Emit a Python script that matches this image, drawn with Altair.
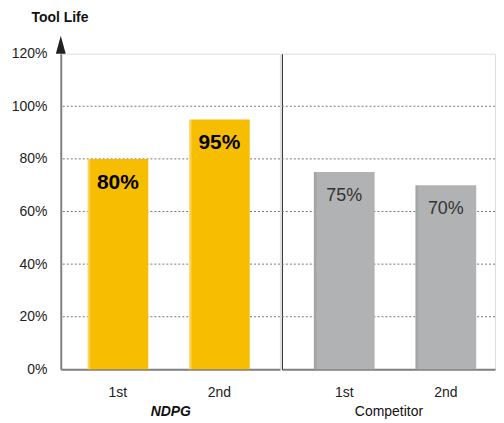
import altair as alt
import pandas as pd

groups = ["NDPG", "Competitor"]
trials = ["1st", "2nd"]
ndpg_values = [80, 95]
competitor_values = [75, 70]
y_ticks = [0, 20, 40, 60, 80, 100, 120]
grid_values = [20, 40, 60, 80, 100]
y_title = "Tool Life"

YELLOW = "#F7BD00"
YELLOW_EDGE = "#FBE08A"
GRAY = "#B1B2B4"
GRAY_EDGE = "#9C9D9F"
FONT = "Liberation Sans"

def make_df(vals):
    return pd.DataFrame({"trial": trials, "value": vals,
                         "label": [f"{v}%" for v in vals]})

grid_df = pd.DataFrame({"g": grid_values})
y_scale = alt.Scale(domain=[0, 120], nice=False, zero=True)


def panel(vals, color, edge, group, left, label_bold, label_color, label_size,
          pad_outer, align, width):
    df = make_df(vals)
    x_scale = alt.Scale(paddingInner=0.402, paddingOuter=pad_outer, align=align)
    x_axis = alt.Axis(
        title=group, labelAngle=0, ticks=False, tickSize=0, labelPadding=16,
        labelFontSize=14, labelColor="#222", labelFont=FONT,
        titleFont=FONT, titleFontSize=14, titleColor="#111",
        titleFontWeight="bold" if group == "NDPG" else "normal",
        titleFontStyle="italic" if group == "NDPG" else "normal",
        titlePadding=5, domainColor="#808080", domainWidth=2,
    )
    if left:
        y_axis = alt.Axis(
            values=y_ticks, labelExpr="datum.value + '%'", grid=False,
            ticks=False, tickSize=0, labelPadding=14, labelFontSize=14,
            labelColor="#222", labelFont=FONT, domainColor="#808080",
            domainWidth=2, title=y_title, titleAngle=0, titleAlign="left",
            titleBaseline="middle", titleX=-30, titleY=-36,
            titleFontSize=14, titleFontWeight="bold", titleColor="#111",
            titleFont=FONT,
        )
    else:
        y_axis = alt.Axis(
            labels=False, ticks=False, tickSize=0, grid=False, title=None,
            domainColor="#222", domainWidth=1, values=y_ticks,
        )
    fill = alt.Gradient(
        gradient="linear",
        stops=[alt.GradientStop(color=edge, offset=0),
               alt.GradientStop(color=color, offset=0.06),
               alt.GradientStop(color=color, offset=1)],
        x1=0, x2=1, y1=0, y2=0,
    )
    base = alt.Chart(df)
    grid = alt.Chart(grid_df).mark_rule(
        color="#777", strokeDash=[2, 2], strokeWidth=1
    ).encode(y=alt.Y("g:Q", scale=y_scale, axis=y_axis))
    bars = base.mark_bar(color=fill).encode(
        x=alt.X("trial:N", scale=x_scale, axis=x_axis, sort=trials),
        y=alt.Y("value:Q", scale=y_scale),
    )
    text = base.mark_text(
        dy=24, baseline="middle", align="center", font=FONT,
        fontSize=label_size, fontWeight="bold" if label_bold else "normal",
        color=label_color,
    ).encode(
        x=alt.X("trial:N", sort=trials),
        y=alt.Y("value:Q"),
        text="label:N",
    )
    layers = [grid, bars, text]
    if left:
        arrow = alt.Chart(pd.DataFrame({"v": [120]})).mark_point(
            shape="M-0.55,0 L0,-2 L0.55,0 Z", size=324, filled=True,
            color="#222", opacity=1,
        ).encode(x=alt.value(0), y=alt.Y("v:Q"))
        layers.append(arrow)
    return alt.layer(*layers).properties(width=width, height=317)


left_panel = panel(ndpg_values, YELLOW, YELLOW_EDGE, groups[0], True, True,
                   "#000", 21, 0.28, 0.47, 220)
right_panel = panel(competitor_values, GRAY, GRAY_EDGE, groups[1], False, False,
                    "#333", 18, 0.25, 0.63, 214)

chart = alt.hconcat(left_panel, right_panel, spacing=0).properties(
    padding={"left": 2, "top": 1, "right": 0, "bottom": 2}
).configure_view(stroke=None).configure(font=FONT)

chart.save("out.html", embed_options={"renderer": "svg", "actions": False})
